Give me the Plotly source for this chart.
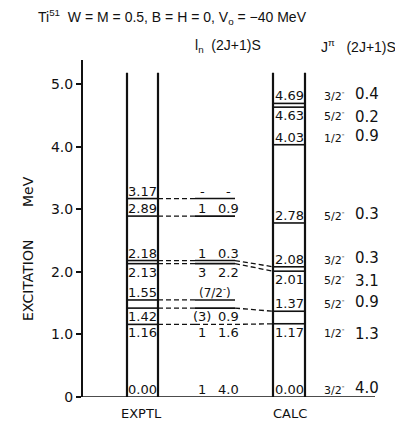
import plotly.graph_objects as go

# ---------------- data ----------------
exptl_energy = [0.00, 1.16, 1.42, 1.55, 2.13, 2.18, 2.89, 3.17]
exptl_label = ["0.00", "1.16", "1.42", "1.55", "2.13", "2.18", "2.89", "3.17"]
exptl_ln = ["1", "1", "(3)", "", "3", "1", "1", "-"]
exptl_S = ["4.0", "1.6", "0.9", "", "2.2", "0.3", "0.9", "-"]
exptl_jpi = ["", "", "", "(7/2⁻)", "", "", "", ""]
exptl_side = ["above", "below", "below", "above", "below", "above", "above", "above"]
exptl_mid_style = ["none", "dash", "solid", "solid", "solid", "solid", "solid", "solid"]

calc_energy = [0.00, 1.17, 1.37, 2.01, 2.08, 2.78, 4.03, 4.63, 4.69]
calc_label = ["0.00", "1.17", "1.37", "2.01", "2.08", "2.78", "4.03", "4.63", "4.69"]
calc_jpi = ["3/2⁻", "1/2⁻", "5/2⁻", "5/2⁻", "3/2⁻", "5/2⁻", "1/2⁻", "5/2⁻", "3/2⁻"]
calc_S = ["4.0", "1.3", "0.9", "3.1", "0.3", "0.3", "0.9", "0.2", "0.4"]
calc_side = ["above", "below", "above", "below", "above", "above", "above", "below", "above"]

link_exptl = [1.16, 1.42, 2.13, 2.18]
link_calc = [1.17, 1.37, 2.01, 2.08]

y_tickvals = [0, 1, 2, 3, 4, 5]
y_ticktext = ["0", "1.0", "2.0", "3.0", "4.0", "5.0"]

# ---------------- layout constants (page has an 8px body margin) ----------------
OFF = 8
W, H = 395, 413
ML, MT, MB = 75, 52, 24
PLOT_W = W - ML
PLOT_H = H - MT - MB
PX_PER_MEV = 62.6
Y_TOP = PLOT_H / PX_PER_MEV

EX_L, EX_R = 44, 75
MID_L, MID_R = 112, 152
CA_L, CA_R = 190, 222
COL_TOP = 5.18
BASE_R = 292

FONT = "DejaVu Sans"
FONT2 = "Liberation Sans"
INK = "#111111"

def paper_x(sx):
    return (sx - OFF - ML) / PLOT_W

def paper_y(sy):
    return (OFF + H - MB - sy) / PLOT_H

fig = go.Figure()

solid_x, solid_y, dash_x, dash_y = [], [], [], []

def seg(xs, ys, x0, x1, y0, y1):
    xs += [x0, x1, None]
    ys += [y0, y1, None]

for xl, xr in [(EX_L, EX_R), (CA_L, CA_R)]:
    seg(solid_x, solid_y, xl, xl, 0, COL_TOP)
    seg(solid_x, solid_y, xr, xr, 0, COL_TOP)

fig.add_trace(go.Scatter(x=solid_x, y=solid_y, mode="lines",
                         line=dict(color=INK, width=2.2), hoverinfo="skip"))

lev_x, lev_y = [], []
seg(lev_x, lev_y, 0, BASE_R, 0, 0)
for e, st in zip(exptl_energy, exptl_mid_style):
    if e > 0:
        seg(lev_x, lev_y, EX_L, EX_R, e, e)
        seg(dash_x, dash_y, EX_R, MID_L, e, e)
        if st == "solid":
            seg(lev_x, lev_y, MID_L, MID_R, e, e)
        elif st == "dash":
            seg(dash_x, dash_y, MID_L, MID_R, e, e)
for e in calc_energy:
    if e > 0:
        seg(lev_x, lev_y, CA_L, CA_R, e, e)
for e0, e1 in zip(link_exptl, link_calc):
    seg(dash_x, dash_y, MID_R, CA_L, e0, e1)

fig.add_trace(go.Scatter(x=lev_x, y=lev_y, mode="lines",
                         line=dict(color=INK, width=1.6), hoverinfo="skip"))
fig.add_trace(go.Scatter(x=dash_x, y=dash_y, mode="lines",
                         line=dict(color=INK, width=1.3, dash="5px,3px"), hoverinfo="skip"))

ann = []

def txt(x, y, s, size=13, xanchor="center", yanchor="middle", yshift=0, family=FONT, paper=False, angle=0):
    a = dict(x=x, y=y, text=s, showarrow=False, xanchor=xanchor, yanchor=yanchor,
             yshift=yshift, textangle=angle, font=dict(family=family, size=size, color=INK))
    if paper:
        a.update(xref="paper", yref="paper")
    ann.append(a)

def side_args(side):
    return ("bottom", -2) if side == "above" else ("top", 1)

for e, lab, ln, S, jp, side in zip(exptl_energy, exptl_label, exptl_ln, exptl_S, exptl_jpi, exptl_side):
    ya, ys = side_args(side)
    txt((EX_L + EX_R) / 2, e, lab, 13, yanchor=ya, yshift=ys)
    if ln:
        txt(119, e, ln, 13, yanchor=ya, yshift=ys)
    if S:
        txt(145, e, S, 13, yanchor=ya, yshift=ys)
    if jp:
        txt(132, e, jp.replace("⁻", "<sup>-</sup>"), 12, yanchor=ya, yshift=ys)

for e, lab, jp, S, side in zip(calc_energy, calc_label, calc_jpi, calc_S, calc_side):
    ya, ys = side_args(side)
    txt((CA_L + CA_R) / 2, e, lab, 13, yanchor=ya, yshift=ys)
    txt(251, e, jp.replace("⁻", "<sup>-</sup>"), 11, yanchor=ya, yshift=ys)
    txt(284, e, S, 15, yanchor=ya, yshift=ys)

# headers and axis labels (screen-pixel positions)
txt(paper_x(172), paper_y(17), "Ti<sup>51</sup>  W = M = 0.5, B = H = 0, V<sub>o</sub> = −40 MeV",
    14, family=FONT2, paper=True)
txt(paper_x(228), paper_y(46), "l<sub>n</sub>  (2J+1)S", 14, family=FONT2, paper=True)
txt(paper_x(358), paper_y(46), "J<sup>π</sup>   (2J+1)S", 14, family=FONT2, paper=True)
txt(paper_x(141), paper_y(413), "EXPTL", 13, paper=True)
txt(paper_x(290), paper_y(413), "CALC", 13, paper=True)
txt(paper_x(28), paper_y(281), "EXCITATION", 14, paper=True, angle=-90)
txt(paper_x(28), paper_y(192), "MeV", 14, paper=True, angle=-90)

fig.update_layout(
    width=W, height=H, showlegend=False,
    margin=dict(l=ML, r=0, t=MT, b=MB),
    paper_bgcolor="white", plot_bgcolor="white",
    annotations=ann,
    xaxis=dict(range=[0, PLOT_W], visible=False, fixedrange=True),
    yaxis=dict(range=[0, Y_TOP], showgrid=False, zeroline=False, showline=True,
               linecolor=INK, linewidth=2, ticks="outside", ticklen=5, tickwidth=1.5,
               tickcolor=INK, tickvals=y_tickvals, ticktext=y_ticktext,
               tickfont=dict(family=FONT, size=14, color=INK), fixedrange=True),
)

fig.write_html("out.html")
